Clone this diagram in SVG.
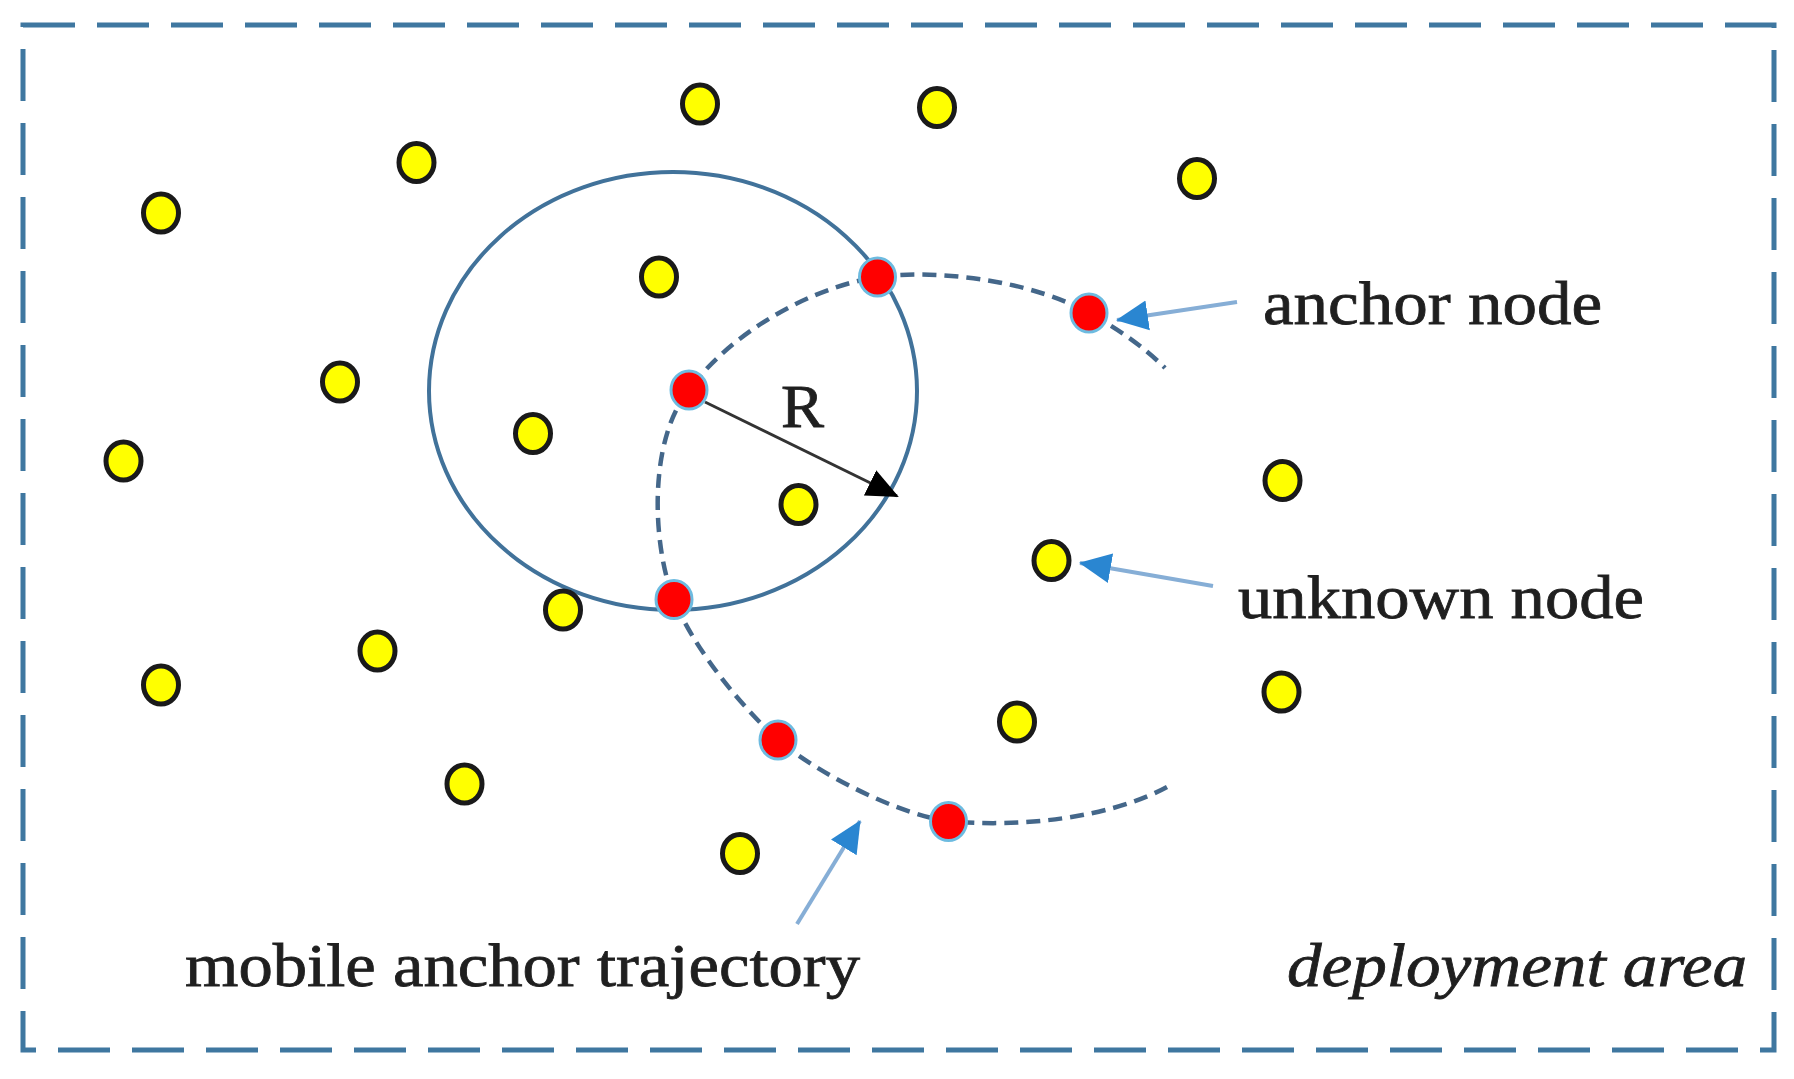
<svg xmlns="http://www.w3.org/2000/svg" width="1794" height="1079" viewBox="0 0 1794 1079">
<style>
.unk{fill:#FFFF00;stroke:#1a1a1a;stroke-width:5}
.anc{fill:#FF0000;stroke:#6DBBE0;stroke-width:3}
.lbl{font-family:"Liberation Serif",serif;font-size:62px;fill:#1f1f1f;stroke:#1f1f1f;stroke-width:0.8}
.ptr{stroke:#86AED6;stroke-width:4;fill:none}
</style>
<defs>
<marker id="bluehead" markerWidth="32" markerHeight="32" refX="31" refY="16" orient="auto" markerUnits="userSpaceOnUse" viewBox="0 0 32 32">
<path d="M0,1 L32,16 L0,31 z" fill="#2A86D1"/>
</marker>
<marker id="blackhead" markerWidth="32" markerHeight="32" refX="30" refY="16" orient="auto" markerUnits="userSpaceOnUse" viewBox="0 0 32 32">
<path d="M0,2 L32,16 L0,30 z" fill="#000"/>
</marker>
</defs>
<rect width="1794" height="1079" fill="#fff"/>
<rect id="area" x="23" y="25" width="1751" height="1025" fill="none" stroke="#3F77A0" stroke-width="5" stroke-dasharray="52 22"/>
<ellipse id="range" cx="673" cy="391" rx="244" ry="219" fill="none" stroke="#41729A" stroke-width="4"/>
<g id="connectors">
<path id="trajectory" d="M1167,787 C1110,818 1020,828 948,821 C900,815 820,775 778,740 C740,705 695,650 674,600 C652,545 648,440 689,390 C725,340 800,290 877,277 C950,268 1040,285 1089,313 C1120,330 1145,348 1165,368" fill="none" stroke="#44678A" stroke-width="4.5" stroke-dasharray="14 8"/>
<line id="radius" x1="705" y1="402" x2="897" y2="496" stroke="#333" stroke-width="3" marker-end="url(#blackhead)"/>
<line class="ptr" x1="1237" y1="302" x2="1117" y2="320" marker-end="url(#bluehead)"/>
<line class="ptr" x1="1213" y1="586" x2="1080" y2="563" marker-end="url(#bluehead)"/>
<line class="ptr" x1="797" y1="924" x2="860" y2="821" marker-end="url(#bluehead)"/>
</g>
<g id="unknown-nodes">
<ellipse id="u1" class="unk" cx="700" cy="104" rx="17.5" ry="19"/>
<ellipse id="u2" class="unk" cx="937" cy="107.5" rx="17.5" ry="19"/>
<ellipse id="u3" class="unk" cx="416.5" cy="162.5" rx="17.5" ry="19"/>
<ellipse id="u4" class="unk" cx="1197" cy="178.5" rx="17.5" ry="19"/>
<ellipse id="u5" class="unk" cx="161" cy="213" rx="17.5" ry="19"/>
<ellipse id="u6" class="unk" cx="659" cy="277" rx="17.5" ry="19"/>
<ellipse id="u7" class="unk" cx="340" cy="382" rx="17.5" ry="19"/>
<ellipse id="u8" class="unk" cx="533" cy="433.5" rx="17.5" ry="19"/>
<ellipse id="u9" class="unk" cx="123.5" cy="461" rx="17.5" ry="19"/>
<ellipse id="u10" class="unk" cx="1282.5" cy="480.5" rx="17.5" ry="19"/>
<ellipse id="u11" class="unk" cx="798.5" cy="504.5" rx="17.5" ry="19"/>
<ellipse id="u12" class="unk" cx="1051.5" cy="560.5" rx="17.5" ry="19"/>
<ellipse id="u13" class="unk" cx="563" cy="610" rx="17.5" ry="19"/>
<ellipse id="u14" class="unk" cx="377.5" cy="651" rx="17.5" ry="19"/>
<ellipse id="u15" class="unk" cx="161" cy="685" rx="17.5" ry="19"/>
<ellipse id="u16" class="unk" cx="1281.5" cy="692" rx="17.5" ry="19"/>
<ellipse id="u17" class="unk" cx="1017" cy="722" rx="17.5" ry="19"/>
<ellipse id="u18" class="unk" cx="464.5" cy="784" rx="17.5" ry="19"/>
<ellipse id="u19" class="unk" cx="740" cy="853.5" rx="17.5" ry="19"/>
</g>
<g id="anchor-nodes">
<ellipse id="a1" class="anc" cx="877.5" cy="277" rx="18" ry="19"/>
<ellipse id="a2" class="anc" cx="1089" cy="313" rx="18" ry="19"/>
<ellipse id="a3" class="anc" cx="689" cy="390" rx="18" ry="19"/>
<ellipse id="a4" class="anc" cx="674" cy="599.5" rx="18" ry="19"/>
<ellipse id="a5" class="anc" cx="778" cy="740" rx="18" ry="19"/>
<ellipse id="a6" class="anc" cx="948.5" cy="821.5" rx="18" ry="19"/>
</g>
<g id="labels">
<text class="lbl" x="781" y="427" textLength="43" lengthAdjust="spacingAndGlyphs">R</text>
<text class="lbl" x="1263" y="324" textLength="339" lengthAdjust="spacingAndGlyphs">anchor node</text>
<text class="lbl" x="1238" y="618" textLength="406" lengthAdjust="spacingAndGlyphs">unknown node</text>
<text class="lbl" x="185" y="986" textLength="675" lengthAdjust="spacingAndGlyphs">mobile anchor trajectory</text>
<text class="lbl" x="1287" y="986" textLength="460" lengthAdjust="spacingAndGlyphs" font-style="italic">deployment area</text>
</g>
</svg>
